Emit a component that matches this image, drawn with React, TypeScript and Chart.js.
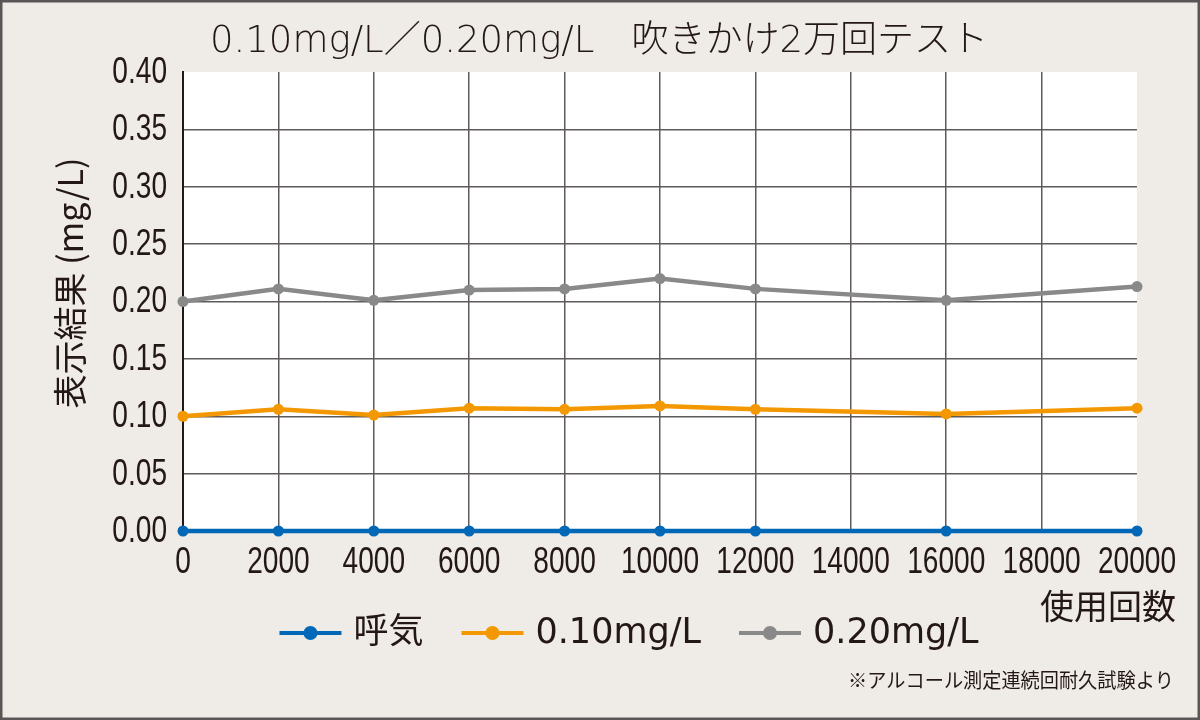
import React, { useEffect, useRef } from "react";
import { Chart, registerables } from "chart.js";

Chart.register(...registerables);

// ---- data ----
const usageCounts = [0, 2000, 4000, 6000, 8000, 10000, 12000, 16000, 20000];
const breathValues = [0, 0, 0, 0, 0, 0, 0, 0, 0];
const low010Values = [0.1, 0.106, 0.101, 0.107, 0.106, 0.109, 0.106, 0.102, 0.107];
const high020Values = [0.2, 0.211, 0.201, 0.21, 0.211, 0.22, 0.211, 0.201, 0.213];
const seriesLabels = ["呼気", "0.10mg/L", "0.20mg/L"];
const chartTitle = "0.10mg/L／0.20mg/L　吹きかけ2万回テスト";
const yTitle = "表示結果 (mg/L)";
const xTitle = "使用回数";
const footnote = "※アルコール測定連続回耐久試験より";

// ---- style ----
const W = 1200;
const H = 720;
const BG = "#efebe6";
const FRAME = "#5a5657";
const GRID = "#5f5b5b";
const TXT = "#231815";
const BLUE = "#0068b7";
const ORANGE = "#f39800";
const GRAY = "#898989";
const TICKFONT = '36px "Liberation Sans", Arial, sans-serif';
const TICK_SQUEEZE = 0.78;
const LATIN = '"DejaVu Sans", "Noto Sans CJK JP", sans-serif';
const CJK = '"Noto Sans CJK JP", sans-serif';

const toPoints = (arr: number[]) => usageCounts.map((x, i) => ({ x, y: arr[i] }));

function squeezedText(ctx: any, text: string, x: number, y: number, align: string, sx: number) {
  ctx.save();
  ctx.translate(x, y);
  ctx.scale(sx, 1);
  ctx.textAlign = align;
  ctx.textBaseline = "middle";
  ctx.fillText(text, 0, 0);
  ctx.restore();
}

const decor = {
  id: "decor",
  beforeDraw(chart: any) {
    const { ctx, chartArea: a } = chart;
    ctx.save();
    ctx.fillStyle = BG;
    ctx.fillRect(0, 0, W, H);
    ctx.strokeStyle = FRAME;
    ctx.lineWidth = 2.5;
    ctx.strokeRect(1.25, 1.25, W - 2.5, H - 2.5);
    ctx.fillStyle = "#ffffff";
    ctx.fillRect(a.left, a.top, a.right - a.left, a.bottom - a.top);
    ctx.restore();
  },
  afterDraw(chart: any) {
    const { ctx } = chart;
    const xs = chart.scales.x;
    const ys = chart.scales.y;
    ctx.save();
    ctx.fillStyle = TXT;

    // tick labels (condensed), positions from the library's scales
    ctx.font = TICKFONT;
    xs.ticks.forEach((t: any) => {
      squeezedText(ctx, String(t.value), xs.getPixelForValue(t.value), 563, "center", TICK_SQUEEZE);
    });
    ys.ticks.forEach((t: any) => {
      squeezedText(ctx, Number(t.value).toFixed(2), 167, ys.getPixelForValue(t.value) + 1, "right", TICK_SQUEEZE);
    });

    // title
    ctx.font = `300 37px ${LATIN}`;
    ctx.textAlign = "center";
    ctx.textBaseline = "middle";
    ctx.fillText(chartTitle, 599, 42);

    // y title
    ctx.save();
    ctx.translate(70, 283);
    ctx.rotate(-Math.PI / 2);
    ctx.font = `34px ${CJK}`;
    ctx.textAlign = "center";
    ctx.textBaseline = "middle";
    ctx.fillText(yTitle, 0, 0);
    ctx.restore();

    // x title
    ctx.font = `34px ${CJK}`;
    ctx.textAlign = "right";
    ctx.textBaseline = "middle";
    ctx.fillText(xTitle, 1176, 606);

    // footnote
    ctx.font = `20px ${CJK}`;
    const fw = ctx.measureText(footnote).width;
    squeezedText(ctx, footnote, 1174, 680, "right", Math.min(1, 326 / fw));

    // legend
    const ly = 633;
    const lineLen = 62;
    const gapText = 12;
    const gapItem = 38;
    ctx.font = `35px ${LATIN}`;
    const dsets = chart.data.datasets;
    const widths = dsets.map((d: any) => ctx.measureText(d.label).width);
    const total =
      widths.reduce((s: number, w: number) => s + w + lineLen + gapText, 0) + gapItem * (dsets.length - 1);
    let x = 629 - total / 2;
    dsets.forEach((d: any, i: number) => {
      ctx.strokeStyle = d.borderColor;
      ctx.lineWidth = 4;
      ctx.beginPath();
      ctx.moveTo(x, ly);
      ctx.lineTo(x + lineLen, ly);
      ctx.stroke();
      ctx.fillStyle = d.pointBackgroundColor;
      ctx.beginPath();
      ctx.arc(x + lineLen / 2, ly, 7, 0, Math.PI * 2);
      ctx.fill();
      ctx.fillStyle = TXT;
      ctx.textAlign = "left";
      ctx.textBaseline = "middle";
      ctx.fillText(d.label, x + lineLen + gapText, ly + 1);
      x += lineLen + gapText + widths[i] + gapItem;
    });
    ctx.restore();
  },
};

function mkDataset(label: string, data: number[], color: string) {
  return {
    label,
    data: toPoints(data),
    borderColor: color,
    backgroundColor: color,
    pointBackgroundColor: color,
    pointBorderColor: color,
    pointRadius: 5.5,
    pointBorderWidth: 0,
    borderWidth: 4.5,
    tension: 0,
    clip: false as any,
  };
}

export default function App() {
  const ref = useRef<HTMLCanvasElement | null>(null);
  useEffect(() => {
    document.body.style.margin = "0";
    const chart = new Chart(ref.current as HTMLCanvasElement, {
      type: "line",
      data: {
        datasets: [
          mkDataset(seriesLabels[0], breathValues, BLUE),
          mkDataset(seriesLabels[1], low010Values, ORANGE),
          mkDataset(seriesLabels[2], high020Values, GRAY),
        ] as any,
      },
      options: {
        responsive: false,
        animation: false,
        layout: { padding: { top: 72, right: 63, bottom: 0, left: 0 } },
        plugins: { legend: { display: false }, tooltip: { enabled: false }, title: { display: false } },
        scales: {
          x: {
            type: "linear",
            min: 0,
            max: 20000,
            afterFit: (s: any) => {
              s.height = H - 531;
            },
            border: { color: TXT, width: 2 },
            grid: {
              drawTicks: false,
              lineWidth: 1.5,
              color: (c: any) =>
                c.tick && (c.tick.value === 0 || c.tick.value === 20000) ? "rgba(0,0,0,0)" : GRID,
            },
            ticks: { display: false, stepSize: 2000, autoSkip: false, maxRotation: 0 },
          },
          y: {
            type: "linear",
            min: 0,
            max: 0.4,
            afterFit: (s: any) => {
              s.width = 183;
            },
            border: { color: TXT, width: 2 },
            grid: {
              drawTicks: false,
              lineWidth: 1.5,
              color: (c: any) =>
                c.tick && (Math.abs(c.tick.value) < 1e-9 || Math.abs(c.tick.value - 0.4) < 1e-9)
                  ? "rgba(0,0,0,0)"
                  : GRID,
            },
            ticks: { display: false, stepSize: 0.05 },
          },
        },
      },
      plugins: [decor],
    });
    return () => chart.destroy();
  }, []);
  return (
    <div style={{ width: W, height: H }}>
      <canvas ref={ref} width={W} height={H} style={{ display: "block", width: W, height: H }} />
    </div>
  );
}
